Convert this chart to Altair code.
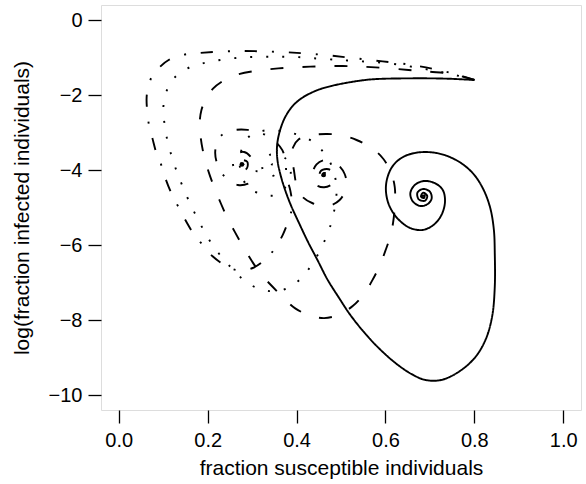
import altair as alt
import pandas as pd

# ---- data (x = fraction susceptible, y = log fraction infected) ----
solid_x = [0.800, 0.737, 0.654, 0.570, 0.528, 0.478, 0.444, 0.411, 0.390, 0.373, 0.361, 0.356,
           0.357, 0.363, 0.373, 0.387, 0.405, 0.425, 0.447, 0.470, 0.495, 0.520, 0.550, 0.585,
           0.625, 0.660, 0.690, 0.725, 0.762, 0.800, 0.825, 0.840, 0.846, 0.846, 0.844, 0.836,
           0.821, 0.800, 0.771, 0.737, 0.704, 0.670, 0.641, 0.618, 0.605, 0.601, 0.608, 0.627,
           0.654, 0.683, 0.708, 0.726, 0.734, 0.729, 0.712, 0.687, 0.666, 0.656, 0.662, 0.679,
           0.696, 0.704, 0.700, 0.685, 0.672, 0.675, 0.689, 0.694, 0.685, 0.680, 0.687, 0.688,
           0.684, 0.686]
solid_y = [-1.600, -1.564, -1.556, -1.582, -1.644, -1.760, -1.884, -2.089, -2.311, -2.622, -3.022, -3.378,
           -3.733, -4.089, -4.489, -4.933, -5.400, -5.900, -6.400, -6.930, -7.400, -7.850, -8.300, -8.750,
           -9.170, -9.450, -9.600, -9.600, -9.404, -9.022, -8.533, -7.911, -7.111, -6.222, -5.600, -5.022,
           -4.533, -4.133, -3.822, -3.618, -3.529, -3.538, -3.644, -3.867, -4.178, -4.533, -4.933, -5.289,
           -5.538, -5.600, -5.467, -5.200, -4.844, -4.533, -4.356, -4.293, -4.400, -4.622, -4.844, -4.960,
           -4.900, -4.756, -4.578, -4.507, -4.604, -4.782, -4.818, -4.693, -4.604, -4.711, -4.747, -4.676,
           -4.690, -4.700]

dashed_x = [0.800, 0.754, 0.700, 0.652, 0.577, 0.504, 0.431, 0.359, 0.300, 0.260, 0.235, 0.212,
            0.196, 0.186, 0.182, 0.184, 0.189, 0.197, 0.205, 0.216, 0.230, 0.245, 0.262, 0.280,
            0.299, 0.320, 0.345, 0.370, 0.397, 0.430, 0.462, 0.495, 0.527, 0.552, 0.571, 0.587,
            0.600, 0.610, 0.617, 0.621, 0.621, 0.612, 0.595, 0.570, 0.535, 0.500, 0.466, 0.430,
            0.405, 0.392, 0.390, 0.394, 0.400, 0.412, 0.435, 0.470, 0.497, 0.512, 0.508, 0.490,
            0.466, 0.445, 0.435, 0.442, 0.462, 0.482, 0.485, 0.472, 0.455, 0.452, 0.465, 0.472,
            0.462, 0.458, 0.462, 0.461]
dashed_y = [-1.600, -1.450, -1.380, -1.333, -1.262, -1.227, -1.244, -1.290, -1.370, -1.480, -1.620, -1.830,
            -2.100, -2.400, -2.750, -3.100, -3.470, -3.850, -4.150, -4.500, -4.900, -5.300, -5.670, -6.050,
            -6.420, -6.780, -7.100, -7.400, -7.690, -7.880, -7.950, -7.860, -7.620, -7.300, -6.930, -6.550,
            -6.150, -5.800, -5.420, -4.950, -4.460, -4.050, -3.700, -3.420, -3.200, -3.070, -3.040, -3.080,
            -3.180, -3.400, -3.700, -4.000, -4.400, -4.700, -4.880, -4.960, -4.800, -4.450, -4.100, -3.830,
            -3.730, -3.850, -4.150, -4.380, -4.460, -4.350, -4.100, -3.980, -4.020, -4.200, -4.250, -4.120,
            -4.080, -4.150, -4.160, -4.130]

dotted_x = [0.800, 0.740, 0.680, 0.611, 0.514, 0.476, 0.438, 0.405, 0.367, 0.331, 0.292, 0.258,
            0.221, 0.185, 0.151, 0.122, 0.106, 0.100, 0.104, 0.110, 0.120, 0.132, 0.146, 0.161,
            0.177, 0.194, 0.213, 0.236, 0.260, 0.288, 0.320, 0.356, 0.392, 0.418, 0.440, 0.457,
            0.472, 0.482, 0.489, 0.489, 0.481, 0.463, 0.437, 0.405, 0.370, 0.332, 0.297, 0.278,
            0.272, 0.278, 0.295, 0.325, 0.347, 0.372, 0.387, 0.375, 0.339, 0.323, 0.335, 0.352,
            0.356, 0.345, 0.340, 0.348, 0.349]
dotted_y = [-1.600, -1.420, -1.290, -1.160, -1.080, -1.050, -1.020, -0.990, -0.980, -0.980, -0.990, -1.020,
            -1.080, -1.170, -1.310, -1.580, -1.950, -2.400, -2.850, -3.250, -3.670, -4.090, -4.500, -4.910,
            -5.290, -5.670, -6.040, -6.380, -6.690, -7.000, -7.180, -7.230, -7.070, -6.780, -6.420, -6.040,
            -5.640, -5.220, -4.800, -4.360, -3.940, -3.560, -3.250, -3.070, -2.970, -2.940, -3.070, -3.400,
            -3.800, -4.200, -4.500, -4.650, -4.680, -4.500, -4.090, -3.690, -3.600, -3.940, -4.170, -4.120,
            -3.920, -3.850, -4.000, -4.030, -3.980]

dotdash_x = [0.800, 0.750, 0.660, 0.560, 0.460, 0.360, 0.260, 0.176, 0.146, 0.113, 0.086, 0.071,
             0.063, 0.064, 0.068, 0.076, 0.086, 0.097, 0.107, 0.121, 0.134, 0.152, 0.170, 0.187,
             0.211, 0.242, 0.266, 0.300, 0.333, 0.350, 0.369, 0.382, 0.390, 0.386, 0.378, 0.375,
             0.368, 0.348, 0.322, 0.290, 0.254, 0.228, 0.217, 0.224, 0.240, 0.268, 0.300, 0.310,
             0.300, 0.282, 0.262, 0.258, 0.270, 0.288, 0.289, 0.276, 0.268, 0.276, 0.281, 0.276,
             0.276]
dotdash_y = [-1.600, -1.420, -1.200, -1.060, -0.930, -0.850, -0.830, -0.885, -0.925, -1.060, -1.330, -1.600,
             -2.000, -2.450, -2.800, -3.170, -3.600, -3.910, -4.290, -4.690, -4.980, -5.380, -5.730, -5.970,
             -6.300, -6.560, -6.670, -6.620, -6.350, -6.110, -5.730, -5.330, -4.980, -4.550, -4.200, -3.800,
             -3.470, -3.200, -3.020, -2.930, -2.950, -3.110, -3.510, -3.920, -4.200, -4.400, -4.310, -4.040,
             -3.700, -3.520, -3.600, -3.910, -4.030, -3.960, -3.780, -3.740, -3.840, -3.900, -3.850, -3.830,
             -3.850]

# end points where the broken-line spirals wind up into a solid blob
eq_x = [0.461, 0.277]
eq_y = [-4.13, -3.85]

curve_names = ["solid", "dashed", "dotted", "dotdash"]
curve_x = [solid_x, dashed_x, dotted_x, dotdash_x]
curve_y = [solid_y, dashed_y, dotted_y, dotdash_y]

x_ticks = [0.0, 0.2, 0.4, 0.6, 0.8, 1.0]
y_ticks = [-10, -8, -6, -4, -2, 0]

rows = []
for name, xs, ys in zip(curve_names, curve_x, curve_y):
    assert len(xs) == len(ys), name
    for i, (a, b) in enumerate(zip(xs, ys)):
        rows.append({"curve": name, "i": i, "x": a, "y": b})
df = pd.DataFrame(rows)
eq_df = pd.DataFrame({"x": eq_x, "y": eq_y})

FONT = "Liberation Sans"

x_scale = alt.Scale(domain=[-0.04, 1.04], nice=False, zero=False)
y_scale = alt.Scale(domain=[-10.4, 0.4], nice=False, zero=False)

lines = alt.Chart(df).mark_line(
    color="black", strokeWidth=1.9, interpolate="catmull-rom", strokeJoin="round"
).encode(
    x=alt.X("x:Q", scale=x_scale,
            axis=alt.Axis(values=x_ticks, format=".1f", grid=False, domain=False,
                          tickSize=13, tickWidth=1.3, tickColor="black",
                          labelFont=FONT, labelFontSize=20, labelColor="black",
                          labelPadding=7, labelFlush=False,
                          title="fraction susceptible individuals",
                          titleFont=FONT, titleFontSize=21, titleFontWeight="normal",
                          titleColor="black", titleY=64, titleBaseline="alphabetic")),
    y=alt.Y("y:Q", scale=y_scale,
            axis=alt.Axis(values=y_ticks, format="d", grid=False, domain=False,
                          tickSize=13, tickWidth=1.3, tickColor="black",
                          labelFont=FONT, labelFontSize=20, labelColor="black",
                          labelPadding=6, labelFlush=False,
                          title="log(fraction infected individuals)",
                          titleFont=FONT, titleFontSize=21, titleFontWeight="normal",
                          titleColor="black", titleX=-73, titleY=202.5, titleAngle=-90,
                          titleAlign="center", titleBaseline="alphabetic")),
    order="i:Q",
    strokeDash=alt.StrokeDash("curve:N",
                              scale=alt.Scale(domain=curve_names,
                                              range=[[1, 0], [13, 19], [2, 14], [12, 15, 2, 15]]),
                              legend=None),
)

blobs = alt.Chart(eq_df).mark_point(
    filled=True, color="black", size=22, opacity=1
).encode(
    x=alt.X("x:Q", scale=x_scale),
    y=alt.Y("y:Q", scale=y_scale),
)

chart = alt.layer(lines, blobs).properties(
    width=480, height=405,
    autosize="none",
    padding={"left": 101, "top": 5, "right": 5, "bottom": 74},
).configure_view(
    stroke="black", strokeWidth=1.3
).configure(background="white")

chart.save("out.html", embed_options={"renderer": "svg", "actions": False})
